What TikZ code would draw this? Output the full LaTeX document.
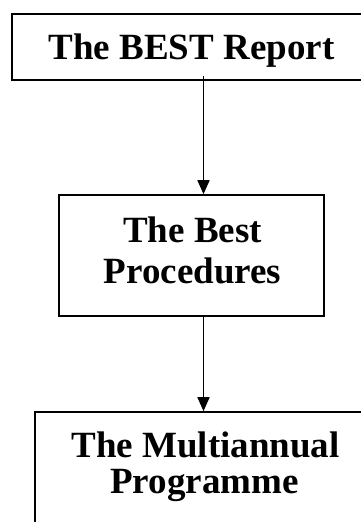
\documentclass[tikz,border=0pt]{standalone}
\usepackage{fontspec}
\setmainfont{Liberation Serif}
\usetikzlibrary{arrows.meta}
\begin{document}
\begin{tikzpicture}[x=1pt,y=-1pt,
  box/.style={draw=black, line width=1.6pt, inner sep=0pt},
  txt/.style={anchor=base, inner sep=0pt, font=\fontsize{37}{41}\selectfont\bfseries},
  arr/.style={line width=1.6pt, -{Triangle[width=12pt,length=14pt]}}]
\useasboundingbox (0,0) rectangle (361,522);
\clip (0,0) rectangle (361,522);
% boxes
\node[box, minimum width=359pt, minimum height=66pt] (b1) at (191.5,47) {};
\node[box, minimum width=265pt, minimum height=121pt] (b2) at (191.5,255.5) {};
\node[box, minimum width=337pt, minimum height=128pt] (b3) at (203.5,476) {};
% texts
\node[txt] (t1) at (191.5,59) {The BEST Report};
\node[txt] (t2a) at (192.5,242) {The Best};
\node[txt] (t2b) at (192.5,283) {Procedures};
\node[txt] (t3a) at (205.5,457) {The Multiannual};
\node[txt] (t3b) at (204.5,493) {Programme};
% connectors
\coordinate (a1s) at ([yshift=5pt]b1.south -| b3.north);
\draw[arr] (a1s) -- (b2.north -| b3.north);
\draw[arr] (b2.south -| b3.north) -- (b3.north);
\end{tikzpicture}
\end{document}
